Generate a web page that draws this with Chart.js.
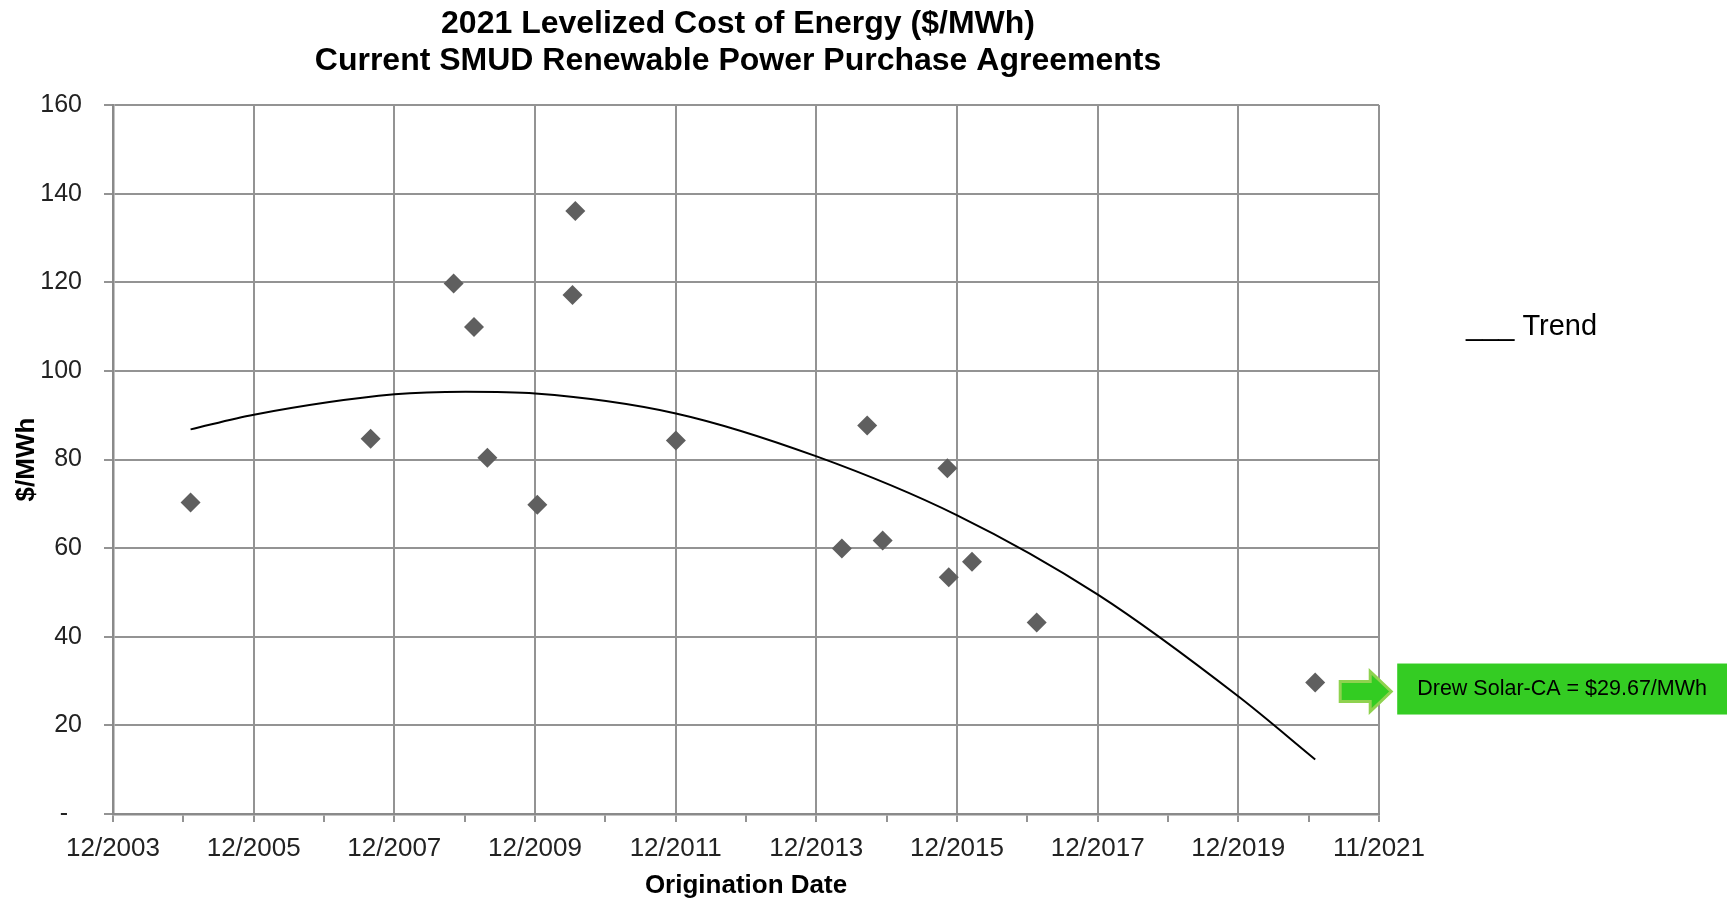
<!DOCTYPE html>
<html>
<head>
<meta charset="utf-8">
<title>2021 Levelized Cost of Energy</title>
<script src="https://cdn.jsdelivr.net/npm/chart.js@4"></script>
<style>
  html, body { margin: 0; padding: 0; background: #fff; }
  canvas { display: block; }
</style>
</head>
<body>
<canvas id="lcoe" width="1727" height="899"></canvas>
<script>
const titleLines = ["2021 Levelized Cost of Energy ($/MWh)", "Current SMUD Renewable Power Purchase Agreements"];

// origination date (decimal year) and cost ($/MWh) of each PPA
const originYear = [2005.02, 2007.58, 2008.76, 2009.05, 2009.24, 2009.95, 2010.49, 2010.45, 2011.92,
                    2014.28, 2014.64, 2014.86, 2015.78, 2015.80, 2016.13, 2017.05, 2021.01];
const costMWh = [70.3, 84.7, 119.7, 109.9, 80.4, 69.8, 136.1, 117.1, 84.3,
                 59.9, 87.7, 61.7, 78.0, 53.4, 56.9, 43.2, 29.67];

// trend curve
const trendYear = [2005.02, 2005.92, 2007.92, 2008.93, 2009.92, 2011.92, 2013.92, 2015.92, 2017.92, 2019.92, 2021.01];
const trendCost = [86.8, 90.1, 94.7, 95.3, 94.9, 90.4, 80.7, 67.4, 49.5, 26.5, 12.3];

const xTickLabels = ["12/2003", "12/2005", "12/2007", "12/2009", "12/2011",
                     "12/2013", "12/2015", "12/2017", "12/2019", "11/2021"];
const legendText = "___ Trend";
const calloutText = "Drew Solar-CA = $29.67/MWh";
const calloutIndex = 16;

const FONT = '"Liberation Sans", Arial, sans-serif';
const GRID = "#939393";
const AXIS = "#8a8a8a";

const xStart = 2003.917;
const xTickValues = [];
for (let i = 0; i <= 18; i++) xTickValues.push(xStart + i);

Chart.defaults.font.family = FONT;

// title, legend text and the green callout
const overlay = {
  id: "overlay",
  afterDraw(chart) {
    const { ctx, chartArea, scales } = chart;
    ctx.save();

    ctx.fillStyle = "#000";
    ctx.textAlign = "center";
    ctx.textBaseline = "middle";
    ctx.font = "bold 32px " + FONT;
    const cx = (chartArea.left + chartArea.right) / 2 - 8;
    titleLines.forEach((t, i) => ctx.fillText(t, cx, 24 + i * 37));

    ctx.textAlign = "left";
    ctx.textBaseline = "alphabetic";
    ctx.font = "29px " + FONT;
    ctx.fillText(legendText, chartArea.right + 87, 335);

    const px = scales.x.getPixelForValue(originYear[calloutIndex]);
    const py = scales.y.getPixelForValue(costMWh[calloutIndex]);

    // block arrow
    const ax = px + 25, ay = py + 9;
    ctx.beginPath();
    ctx.moveTo(ax, ay - 10);
    ctx.lineTo(ax + 30, ay - 10);
    ctx.lineTo(ax + 30, ay - 20);
    ctx.lineTo(ax + 51, ay);
    ctx.lineTo(ax + 30, ay + 20);
    ctx.lineTo(ax + 30, ay + 10);
    ctx.lineTo(ax, ay + 10);
    ctx.closePath();
    ctx.fillStyle = "#33cc22";
    ctx.fill();
    ctx.lineWidth = 3;
    ctx.strokeStyle = "#8fd24f";
    ctx.stroke();

    // label box
    const bx = ax + 57, by = py - 19, bw = chart.width - bx, bh = 51;
    ctx.fillStyle = "#34cc23";
    ctx.fillRect(bx, by, bw, bh);
    ctx.fillStyle = "#000";
    ctx.textAlign = "center";
    ctx.textBaseline = "middle";
    ctx.font = "21.5px " + FONT;
    ctx.fillText(calloutText, bx + bw / 2, by + bh / 2);

    ctx.restore();
  }
};

new Chart(document.getElementById("lcoe"), {
  type: "scatter",
  data: {
    datasets: [
      {
        label: "PPA",
        data: originYear.map((x, i) => ({ x, y: costMWh[i] })),
        pointStyle: "rectRot",
        pointRadius: 10,
        backgroundColor: "#5f5f5f",
        borderColor: "#5f5f5f",
        borderWidth: 0
      },
      {
        label: "Trend",
        data: trendYear.map((x, i) => ({ x, y: trendCost[i] })),
        showLine: true,
        pointRadius: 0,
        borderColor: "#000",
        borderWidth: 2,
        cubicInterpolationMode: "monotone",
        fill: false
      }
    ]
  },
  options: {
    responsive: false,
    animation: false,
    layout: { padding: { top: 105, right: 348, bottom: 0, left: 0 } },
    plugins: {
      legend: { display: false },
      tooltip: { enabled: false },
      title: { display: false }
    },
    scales: {
      x: {
        type: "linear",
        min: xStart,
        max: xStart + 18,
        afterBuildTicks: s => { s.ticks = xTickValues.map(v => ({ value: v })); },
        afterFit: s => { s.height = 85; },
        ticks: {
          autoSkip: false,
          maxRotation: 0,
          padding: 11,
          color: "#222",
          font: { size: 26 },
          callback: (v, i) => (i % 2 ? "" : xTickLabels[i / 2])
        },
        grid: {
          color: c => (c.index % 2 ? "rgba(0,0,0,0)" : GRID),
          tickColor: GRID,
          lineWidth: 2,
          tickLength: 8
        },
        border: { color: AXIS, width: 2.5 },
        title: {
          display: true,
          text: "Origination Date",
          color: "#000",
          font: { size: 26, weight: "bold", lineHeight: 1.05 },
          padding: { top: 0, bottom: 0 }
        }
      },
      y: {
        min: 0,
        max: 160,
        afterFit: s => { s.width = 113; },
        ticks: {
          stepSize: 20,
          padding: 22,
          color: "#222",
          font: { size: 25 },
          callback: v => (v === 0 ? "-  " : v)
        },
        grid: { color: GRID, lineWidth: 2, tickLength: 9 },
        border: { color: AXIS, width: 2.5 },
        title: {
          display: true,
          text: "$/MWh",
          color: "#000",
          font: { size: 26, weight: "bold" },
          padding: { top: 11, bottom: 0 }
        }
      }
    }
  },
  plugins: [overlay]
});
</script>
</body>
</html>
